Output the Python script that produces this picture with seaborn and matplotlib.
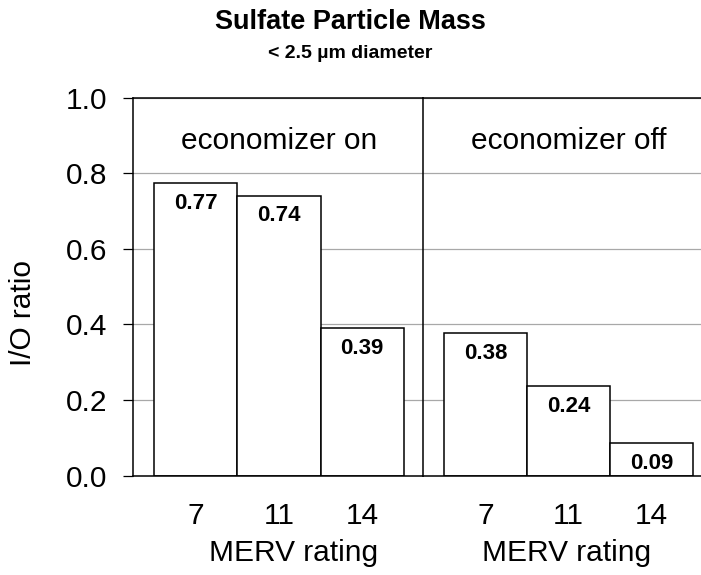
import numpy as np
import pandas as pd
import matplotlib
matplotlib.use("Agg")
import matplotlib.pyplot as plt
import seaborn as sns

# Data lest av fra figuren
merv = ["7", "11", "14"]
econ_on = [0.774, 0.741, 0.391]
econ_off = [0.377, 0.236, 0.086]
panel_titles = ["economizer on", "economizer off"]
y_ticks = [0.0, 0.2, 0.4, 0.6, 0.8, 1.0]

sns.set_style("white")
plt.rcParams["font.family"] = ["Liberation Sans", "DejaVu Sans"]
plt.rcParams.update({"text.color": "black", "axes.labelcolor": "black",
                     "xtick.color": "black", "ytick.color": "black"})

fig = plt.figure(figsize=(7.01, 5.75), dpi=100)
bottom, height = 0.1727, 0.6574
ax1 = fig.add_axes([0.1902, bottom, 0.6034 - 0.1902, height])
ax2 = fig.add_axes([0.6034, bottom, 1 - 0.6034, height], sharey=ax1)

panels = [(ax1, econ_on, panel_titles[0], (-0.75, 2.73), 0.552),
          (ax2, econ_off, panel_titles[1], (-0.76, 2.6), 0.518)]

for ax, vals, title, xlim, xlab_x in panels:
    df = pd.DataFrame({"merv": merv, "ratio": vals})
    sns.barplot(data=df, x="merv", y="ratio", order=merv, ax=ax, color="white",
                saturation=1, edgecolor="black", linewidth=1.1, width=1.0, errorbar=None)

    for patch, v in zip(ax.patches, vals):  # verdier inne i stolpene
        ax.annotate(f"{v:.2f}", (patch.get_x() + patch.get_width() / 2, patch.get_height()),
                    xytext=(0, -14.5), textcoords="offset points", ha="center", va="center",
                    fontsize=16, fontweight="bold", color="black")

    ax.text(1.0, 0.885, title, ha="center", va="center", fontsize=21.5, color="black")
    ax.set_xlim(*xlim)
    ax.set_ylim(0, 1.0)
    ax.set_yticks(y_ticks)
    ax.yaxis.grid(True, color="#a8a8a8", linewidth=0.9)
    ax.set_axisbelow(True)
    ax.tick_params(axis="x", length=0, pad=19, labelsize=21.5, labelcolor="black")
    ax.set_xlabel("MERV rating", fontsize=21.5, color="black")
    ax.xaxis.label.set_va("center")
    ax.xaxis.set_label_coords(xlab_x, -0.205)
    ax.set_ylabel("")
    for side in ["left", "bottom", "top"]:
        ax.spines[side].set_visible(True)
        ax.spines[side].set_color("black")
        ax.spines[side].set_linewidth(1.1)
    ax.spines["right"].set_visible(False)

ax1.tick_params(axis="y", left=True, direction="out", length=7, width=0.9, pad=11.5,
                labelsize=21.5, color="black", labelcolor="black")
ax1.set_yticklabels([f"{t:.1f}" for t in y_ticks])
ax2.tick_params(axis="y", left=False, labelleft=False)

fig.text(23 / 701, 1 - 313 / 575, "I/O ratio", rotation=90, ha="center", va="center",
         fontsize=21.5, color="black")
fig.text(0.5, 1 - 22 / 575, "Sulfate Particle Mass", ha="center", va="center",
         fontsize=19.5, fontweight="bold", color="black")
fig.text(0.5, 1 - 53 / 575, "< 2.5 \u00b5m diameter", ha="center", va="center",
         fontsize=14, fontweight="bold", color="black")

fig.savefig("out.png", dpi=100)
